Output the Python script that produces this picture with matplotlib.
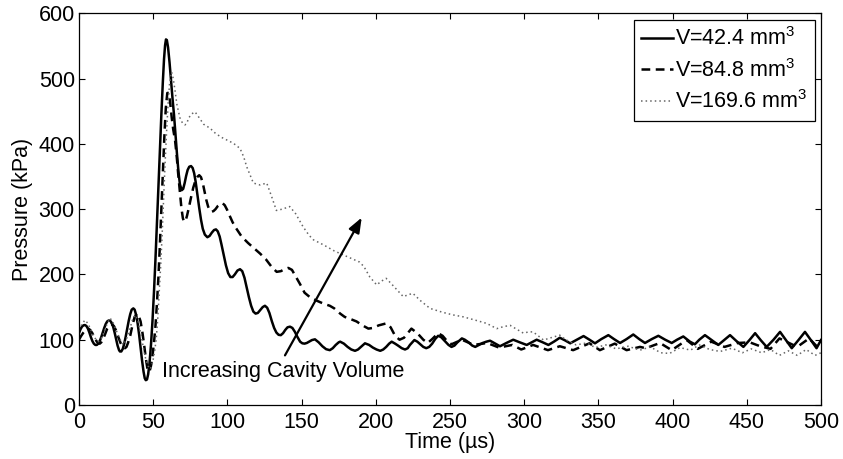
import matplotlib
matplotlib.use("Agg")
import matplotlib.pyplot as plt

plt.rcParams['font.family'] = ['Liberation Sans', 'DejaVu Sans']
plt.rcParams['mathtext.fontset'] = 'custom'
plt.rcParams['mathtext.rm'] = 'Liberation Sans'
plt.rcParams['mathtext.it'] = 'Liberation Sans'

# ---- data: (time in us, pressure in kPa) ----
small_volume = [
    (0, 110), (1, 116), (2, 120), (3, 122), (4, 122.5), (5, 121), (6, 117), (7, 111), (8, 104), (9, 98),
    (10, 94), (11, 92), (12, 92), (13, 94), (14, 98), (15, 104), (16, 111), (17, 118), (18, 124), (19, 128),
    (20, 129.5), (21, 129), (22, 126), (23, 120), (24, 111), (25, 101), (26, 91), (27, 84), (27.6, 82),
    (28.5, 82), (29.5, 86), (30.5, 94), (31.5, 105), (32.5, 117), (33.5, 129), (34.5, 139), (35.5, 146),
    (36.6, 148), (37.5, 146), (38.5, 138), (39.5, 125), (40.5, 108), (41.5, 88), (42.5, 68), (43.5, 51),
    (44.3, 41), (45, 38), (45.8, 39), (46.6, 47), (47.5, 64), (48.5, 92), (49.5, 128), (50.5, 172),
    (51.5, 222), (52.5, 276), (53.5, 333), (54.5, 390), (55.5, 445), (56.5, 495), (57.3, 530), (58, 551),
    (58.6, 560), (59.2, 559), (60, 548), (61, 525), (62, 497), (63, 470), (64, 445), (65, 415), (66, 385),
    (67, 358), (68, 338), (69.2, 329), (70.2, 331), (71.2, 340), (72.2, 351), (73.2, 360), (74.3, 365),
    (75.5, 366), (76.6, 363), (77.6, 355), (78.6, 342), (79.8, 322), (81, 302), (82.2, 284), (83.4, 270),
    (84.8, 261), (86.5, 257), (88, 259), (89.5, 264), (91, 268), (92.3, 269), (93.5, 266), (94.8, 258),
    (96, 246), (97.5, 230), (99, 214), (100.5, 202), (102, 196), (103.5, 196), (105, 200), (106.8, 206),
    (108.5, 208), (110, 205), (111.5, 195), (113, 180), (114.5, 165), (116, 152), (117.5, 143), (119, 140),
    (120.5, 141), (122, 145), (123.8, 150), (125.3, 152), (126.8, 149), (128.3, 141), (130, 128),
    (131.5, 118), (133, 111), (134.5, 107.5), (136, 107), (137.5, 110), (139, 115), (140.5, 119),
    (142.2, 120), (143.8, 118), (145.5, 112), (147, 105), (149, 97), (150.5, 94.5), (152, 94), (153.5, 95),
    (155.5, 97.5), (157, 99.5), (159, 100.6), (161.5, 96), (164, 90), (166.5, 85.5), (169, 84), (171, 87),
    (173, 92), (175, 96), (176, 97), (178.5, 94), (181, 89), (183.5, 85), (186, 83), (188, 85), (190, 89),
    (192.7, 94.5), (195.5, 92), (198, 88), (200.5, 85), (203, 83), (205, 85), (207, 89), (209, 94),
    (210.7, 97), (213, 94), (215, 91), (217.5, 87), (219.7, 85), (221.5, 87), (223, 92), (226, 99.5),
    (228, 97), (230, 93), (232, 89), (234, 87), (236, 89), (238, 94), (240, 101), (242, 106), (244, 104),
    (246.5, 98), (249, 92), (251, 89), (253, 91), (255, 96), (258, 102), (260, 100), (262.5, 96), (265, 91),
    (267, 89), (269.5, 92), (272, 95), (274.5, 97), (277, 98.5), (280.5, 94), (283.7, 90), (288, 95),
    (292.6, 100), (297, 96), (301.7, 92), (305, 96), (308.4, 100), (312.5, 96), (316.3, 92), (320, 97),
    (324, 103), (327.5, 99), (331, 94.5), (335.5, 100), (340, 105.6), (344, 100), (347.7, 94.5), (352, 101),
    (356.7, 107), (360.5, 101), (364.6, 95), (369, 101), (373.5, 108), (377.5, 101), (381.4, 95), (386, 101),
    (390.4, 106), (395, 100), (399.4, 95), (403, 100), (407.2, 105), (411.7, 97), (415, 93), (418, 100),
    (421.8, 107), (426, 100), (430.8, 92), (435, 100), (438.7, 107), (443, 98), (447.7, 89), (452, 100),
    (455.6, 110), (459.5, 99), (463.4, 89), (468, 100), (472.4, 112), (476.5, 99), (480.3, 87), (485, 100),
    (489.2, 112), (493, 100), (497, 87), (500, 99.5),
]

medium_volume = [
    (0, 100), (1.5, 106), (3, 111), (4.5, 115), (6.3, 117), (7.5, 115), (9, 110), (10.5, 103), (12, 97),
    (13, 94.5), (14, 94), (15, 96), (16, 100), (17.5, 108), (19, 117), (20.5, 122), (22, 124), (23.5, 121),
    (25, 114), (26.5, 104), (28, 95), (29.5, 89), (31, 87), (32, 89), (33, 95), (34.5, 106), (36, 122),
    (37.5, 135), (39, 140), (40, 138), (41.5, 128), (42.8, 110), (44, 90), (45, 72), (46, 57), (46.7, 51),
    (47.6, 52), (48.5, 60), (49.5, 75), (50.5, 95), (51.5, 120), (52.5, 155), (53.5, 195), (54.5, 245),
    (55.5, 300), (56.5, 355), (57.5, 410), (58.5, 455), (59.5, 478), (60.5, 478), (61.5, 462), (62.5, 440),
    (63.5, 422), (64.7, 406), (65.8, 382), (66.8, 355), (67.9, 329), (69, 302), (70, 286), (70.8, 281),
    (71.8, 282), (72.8, 290), (74, 302), (75.5, 318), (77, 333), (78.5, 344), (80, 350), (81, 352),
    (82.2, 349), (83.4, 340), (84.6, 327), (85.8, 314), (87, 304), (88.2, 298), (89.4, 296), (90.6, 297),
    (92, 300), (93.6, 305), (95.2, 308), (96.8, 309), (98.2, 306), (99.8, 299), (101.5, 290), (103.5, 280),
    (105.5, 272), (109.6, 258), (114, 248), (118, 240), (122, 232), (126, 223), (130, 211), (133.2, 204),
    (136, 205), (138.5, 208), (141, 210), (143.5, 207), (146, 197), (149, 185), (152, 172), (155.7, 165),
    (160, 160), (165, 155), (169, 152), (172, 148), (176, 140), (179, 135), (182.6, 132), (187, 128),
    (191, 122), (195, 117), (198, 118), (202, 122), (207, 125), (210, 119), (213, 106), (216, 100),
    (219, 103), (224, 117), (228, 110), (232, 100), (235, 95), (238, 101), (242, 110), (245, 106),
    (248, 98), (251, 93), (258, 100), (266, 92), (275, 95), (283, 88), (292, 92), (298, 85), (306, 92),
    (316, 84), (324, 90), (333, 84), (344, 94.5), (351, 84), (361, 94), (369, 84), (378, 89), (382, 87),
    (391.5, 95), (399.4, 84), (409.5, 99.5), (417, 86), (426, 97), (435, 89), (444, 95), (452, 96),
    (459, 90), (466, 86), (472, 102), (484, 89), (492, 102), (498, 88), (500, 92),
]

large_volume = [
    (0, 115), (2, 124), (4, 130), (6, 125), (8, 115), (10.5, 103), (13, 97), (15, 102), (17, 112), (19, 125),
    (21, 133), (23, 126), (25, 115), (27.5, 101), (30, 92), (32, 101), (34, 115), (36, 130), (38, 138),
    (40, 127), (42, 105), (43.5, 86), (45, 70), (46.5, 60), (48, 55), (49, 60), (50, 70), (51, 83), (52, 100),
    (53, 130), (54, 170), (55, 212), (56, 260), (57, 315), (58, 370), (59, 418), (60, 460), (61, 492),
    (62.4, 510), (63.5, 500), (64.5, 485), (66, 460), (68, 440), (69.7, 432), (71.4, 429), (72.7, 432),
    (74, 440), (76, 446), (78.2, 449), (81, 440), (84, 430), (88.3, 424), (92, 416), (96, 410), (99.5, 406),
    (104, 401), (108.5, 393), (111, 380), (113, 365), (117.5, 340), (122, 337), (126.5, 340), (130, 318),
    (133, 298), (137, 300), (142, 304), (146, 293), (151, 273), (155, 260), (158, 253), (165, 245),
    (172, 236), (176, 232), (182, 226), (189, 219), (192, 212), (196, 196), (200.6, 184), (204, 190),
    (207, 194), (212, 182), (218.5, 166), (222, 169), (225, 171), (230, 160), (236.5, 148), (245, 142),
    (252, 138), (259, 135), (267, 130), (274.7, 125), (281.5, 117), (286, 120), (290.5, 122), (295, 116),
    (299.5, 110), (303, 112), (306, 112), (310, 105), (313, 99.5), (318, 103), (324, 107), (328, 100),
    (335, 92), (342, 95), (348, 88), (355, 92), (362, 86), (370, 90), (378, 84), (385, 89), (392, 80),
    (398, 79), (405, 88), (412, 84), (418, 92), (425, 85), (432, 82), (440, 87), (447, 80), (453, 86),
    (460, 80), (466, 85), (472, 76), (478, 83), (484, 76), (490, 85), (496, 76), (500, 80),
]

labels = ['V=42.4 mm$^3$', 'V=84.8 mm$^3$', 'V=169.6 mm$^3$']
x_ticks = [0, 50, 100, 150, 200, 250, 300, 350, 400, 450, 500]
y_ticks = [0, 100, 200, 300, 400, 500, 600]

FS = 15.5
fig = plt.figure(figsize=(8.43, 4.59), dpi=100)
ax = fig.add_axes([79 / 843, 54 / 459, 742 / 843, 391.7 / 459])

styles = [dict(color='black', lw=1.8, ls='-'),
          dict(color='black', lw=1.8, ls=(0, (3.5, 2.2))),
          dict(color='#666666', lw=1.1, ls=(0, (1, 2)))]
for series, lab, st in zip([small_volume, medium_volume, large_volume], labels, styles):
    t, p = zip(*series)
    ax.plot(t, p, label=lab, **st)

ax.annotate('', xy=(190.5, 287), xytext=(138.8, 76),
            arrowprops=dict(arrowstyle='-|>,head_length=0.9,head_width=0.35', color='black', lw=1.6,
                            shrinkA=0, shrinkB=0))
ax.text(56, 43, 'Increasing Cavity Volume', fontsize=FS, ha='left', va='baseline')

ax.set_xlim(0, 500)
ax.set_ylim(0, 600)
ax.set_xticks(x_ticks)
ax.set_yticks(y_ticks)
ax.tick_params(direction='in', top=True, right=True, length=4.5, width=0.8, labelsize=FS)
ax.tick_params(axis='x', pad=5)
ax.tick_params(axis='y', pad=3)
for s in ax.spines.values():
    s.set_linewidth(0.9)
ax.set_xlabel('Time (µs)', fontsize=FS, labelpad=-1)
ax.set_ylabel('Pressure (kPa)', fontsize=FS, labelpad=4)

leg = ax.legend(loc='upper right', fontsize=FS, handlelength=1.45, handletextpad=0.1,
                borderaxespad=0.3, labelspacing=0.4, borderpad=0.35, fancybox=False,
                edgecolor='black', framealpha=1)
leg.get_frame().set_linewidth(0.9)

fig.savefig('out.png', dpi=100)
